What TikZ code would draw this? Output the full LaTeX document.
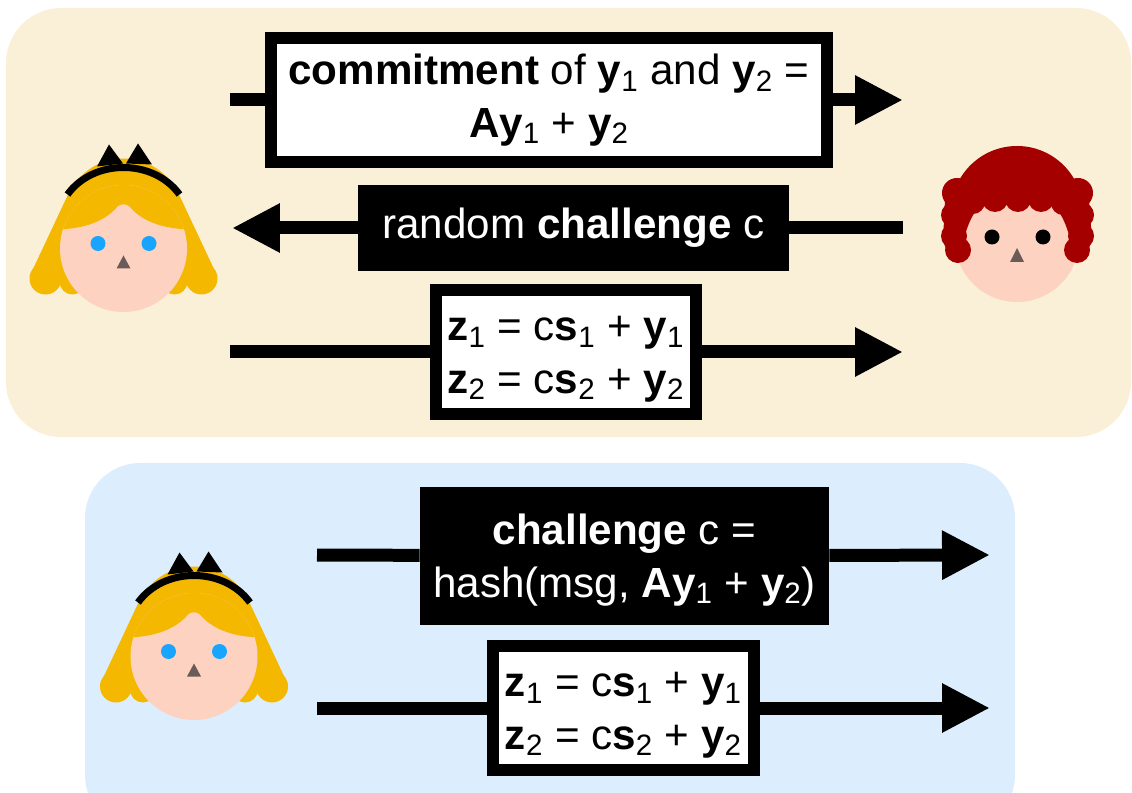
\documentclass[tikz,border=0pt]{standalone}
\usepackage{fontspec}
\setmainfont{Liberation Sans}
\usetikzlibrary{arrows.meta}

\definecolor{sandpanel}{HTML}{FAF0D8}
\definecolor{skypanel}{HTML}{DCEEFD}
\definecolor{goldhair}{HTML}{F5B800}
\definecolor{skin}{HTML}{FDD2C1}
\definecolor{blueeye}{HTML}{17A5FF}
\definecolor{nosegray}{HTML}{6B5B58}
\definecolor{redhair}{HTML}{A50000}

% bold vector with a plain subscript
\newcommand{\vb}[2]{\textbf{#1}\textsubscript{#2}}
% pushes a two-line label a little lower in its box
\newcommand{\capstrut}{\rule{0pt}{22pt}}

\tikzset{
  wire/.style={line width=0.26cm},
  wirehead/.style={wire, -{Triangle[length=0.96cm,width=0.92cm]}},
  card/.style={align=center, inner sep=0pt, font={\fontsize{24}{30}\selectfont}},
  papercard/.style={card, draw=black, fill=white, line width=0.24cm},
  inkcard/.style={card, fill=black, text=white},
  alice/.pic={
    % hair behind the face
    \fill[goldhair] (0,-30) circle (60);
    \fill[goldhair] (-55,-55) -- (55,-55) -- (94,28) -- (-94,28) -- cycle;
    \fill[goldhair] (-78,30) circle (16) (-51,33) circle (13)
                    (51,33) circle (13) (78,30) circle (16);
    \fill[skin] (0,0) circle (63.5);
    % fringe
    \begin{scope}
      \clip (0,0) circle (63.5);
      \fill[goldhair] (-70,-90) -- (-70,-19)
        .. controls (-35,-19) and (-16,-30) .. (-6,-42)
        .. controls (-3,-45) and (3,-45) .. (6,-42)
        .. controls (16,-30) and (35,-19) .. (70,-19) -- (70,-90) -- cycle;
    \end{scope}
    \fill[blueeye] (-25.5,-5) circle (7.5) (25.5,-5) circle (7.5);
    \fill[nosegray] (0,7) -- (-7,20) -- (7,20) -- cycle;
    % headband with bow
    \draw[line width=0.14cm] (-56,-54) .. controls (-30,-90) and (30,-90) .. (56,-54);
    \fill (-14.5,-104) -- (-26.5,-82) -- (-0.5,-85) -- cycle;
    \fill (14.5,-105) -- (2.5,-85) -- (28.5,-84) -- cycle;
  },
  bob/.pic={
    \fill[skin] (0,0) circle (62);
    % crown
    \begin{scope}
      \clip (-90,-110) rectangle (90,-38);
      \fill[redhair] (0,-28) circle (66);
    \end{scope}
    % side hair
    \fill[redhair] (-60,23) .. controls (-53,0) and (-50,-20) .. (-38,-33)
      -- (-56,-50) -- (-72,-40) -- (-74,0) -- (-68,18) -- cycle;
    \fill[redhair] (60,23) .. controls (53,0) and (50,-20) .. (38,-33)
      -- (56,-50) -- (72,-40) -- (75,0) -- (68,18) -- cycle;
    % curls
    \fill[redhair] (-60,-47) circle (15) (-63,-25) circle (13) (-63,-4) circle (13) (-59,10) circle (13)
                   (61,-47) circle (15) (64,-25) circle (13) (64,-4) circle (13) (60,10) circle (13);
    % fringe
    \fill[redhair] (-44,-38) circle (12) (-22,-41) circle (13) (1,-41) circle (13)
                   (24,-41) circle (13) (46,-37) circle (12);
    \fill (-25,-3) circle (7.5) (26,-3) circle (7.5);
    \fill[nosegray] (0,8) -- (-7,22) -- (7,22) -- cycle;
  }
}

\begin{document}
\begin{tikzpicture}[x=0.02cm,y=-0.02cm]
\clip (0,0) rectangle (1132,793);

% interactive round
\fill[sandpanel, rounded corners=1.1cm] (6,8) rectangle (1131,437);
\pic at (123.5,248.5) {alice};
\pic at (1017,240) {bob};

\coordinate (s1) at (230,100);
\coordinate (e1) at (903,100);
\node[papercard, minimum width=11.12cm, minimum height=2.5cm] (commit) at (549,100)
  {\textbf{commitment} of \vb{y}{1} and \vb{y}{2} =\\\textbf{A}\vb{y}{1} + \vb{y}{2}};
\draw[wire] (s1) -- (commit);
\draw[wirehead] (commit) -- (e1);

\coordinate (s2) at (903,228);
\coordinate (e2) at (232,228);
\node[inkcard, minimum width=8.62cm, minimum height=1.74cm] (chal) at (573.5,228)
  {random \textbf{challenge} c};
\draw[wire] (s2) -- (chal);
\draw[wirehead] (chal) -- (e2);

\coordinate (s3) at (230,352);
\coordinate (e3) at (903,352);
\node[papercard, minimum width=5.2cm, minimum height=2.5cm] (resp) at (566,352)
  {\capstrut\vb{z}{1} = c\vb{s}{1} + \vb{y}{1}\\\vb{z}{2} = c\vb{s}{2} + \vb{y}{2}};
\draw[wire] (s3) -- (resp);
\draw[wirehead] (resp) -- (e3);

% non-interactive version
\fill[skypanel, rounded corners=1.1cm] (85,463) rectangle (1015,830);
\pic at (194,656.5) {alice};

\coordinate (s4) at (317,555);
\coordinate (e4) at (990,555);
\node[inkcard, minimum width=8.18cm, minimum height=2.76cm] (hash) at (624.5,556)
  {\capstrut\textbf{challenge} c =\\hash(msg, \textbf{A}\vb{y}{1} + \vb{y}{2})};
\draw[wire] (s4) -- (hash);
\draw[wirehead] (hash) -- (e4);

\coordinate (s5) at (317,708);
\coordinate (e5) at (990,708);
\node[papercard, minimum width=5.22cm, minimum height=2.5cm] (sig) at (623.5,708)
  {\capstrut\vb{z}{1} = c\vb{s}{1} + \vb{y}{1}\\\vb{z}{2} = c\vb{s}{2} + \vb{y}{2}};
\draw[wire] (s5) -- (sig);
\draw[wirehead] (sig) -- (e5);
\end{tikzpicture}
\end{document}
